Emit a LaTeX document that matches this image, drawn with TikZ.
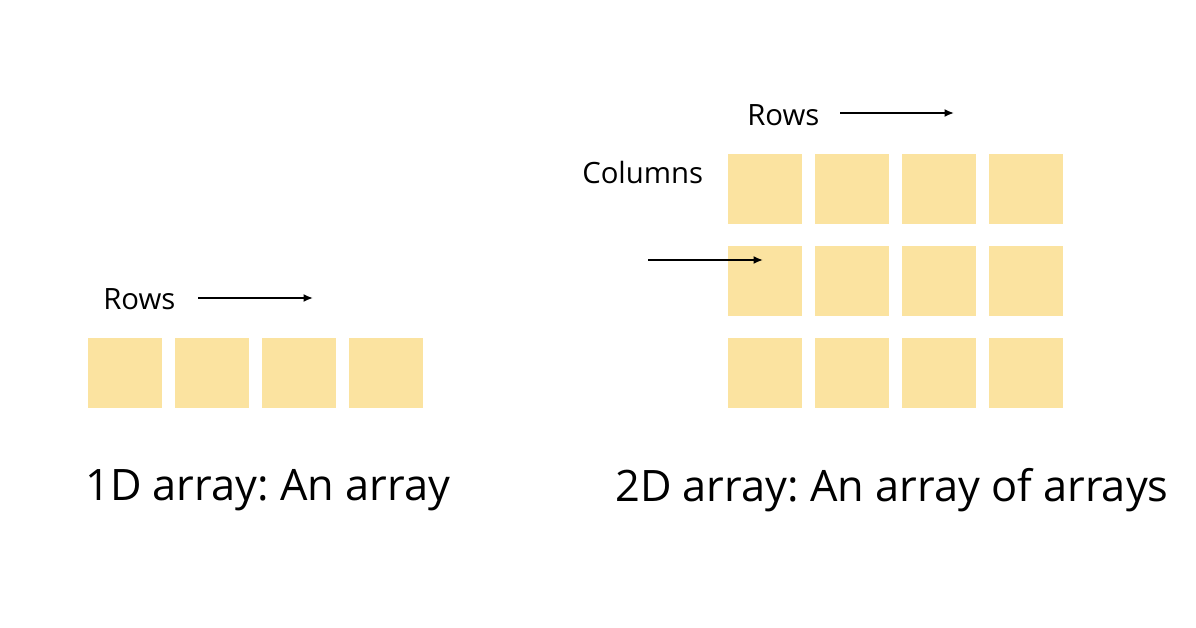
\documentclass[tikz,border=0pt]{standalone}
\usepackage{fontspec}
\setmainfont{Open Sans}
\usetikzlibrary{positioning,arrows.meta}
\definecolor{cellYellow}{HTML}{FBE3A0}
\begin{document}
\frenchspacing
\begin{tikzpicture}[x=0.75pt,y=-0.75pt,%%
  cellStyle/.style={fill=cellYellow,draw=none,minimum width=55.5pt,minimum height=52.5pt,inner sep=0pt},%%
  arrowStyle/.style={-{Latex[length=7pt,width=6pt]},line width=1.5pt},%%
  labelStyle/.style={font=\fontsize{22}{26}\selectfont,inner sep=0pt},%%
  titleStyle/.style={font=\fontsize{32.5}{38}\selectfont,inner sep=0pt}%%
]
\useasboundingbox (0,0) rectangle (1196,628);
%%
%% The 1D array.
\foreach \i in {0,...,3}
  \node[cellStyle] (one\i) at (125+87*\i,373) {};
\node[labelStyle,anchor=west] (rowsA) at (103,299) {Rows};
\coordinate (rowsAStart) at (198,298);
\coordinate (rowsAEnd) at (313,298);
\draw[arrowStyle] (rowsAStart) -- (rowsAEnd);
\node[titleStyle,anchor=west] (titleA) at (85,490) {1D array: An array};
%%
%% The 2D array.
\foreach \r/\y in {0/189,1/281,2/373}
  \foreach \i in {0,...,3}
    \node[cellStyle] (two\r\i) at (765+87*\i,\y) {};
\node[labelStyle,anchor=west] (rowsB) at (747,115) {Rows};
\coordinate (rowsBStart) at (840,113);
\coordinate (rowsBEnd) at (954,113);
\draw[arrowStyle] (rowsBStart) -- (rowsBEnd);
\node[labelStyle,anchor=west] (cols) at (582,172) {Columns};
\coordinate (colsStart) at (648,260);
\coordinate (colsEnd) at (763,260);
\draw[arrowStyle] (colsStart) -- (colsEnd);
\node[titleStyle,anchor=west] (titleB) at (615,490) {2D array: An array of arrays};
\end{tikzpicture}
\end{document}
